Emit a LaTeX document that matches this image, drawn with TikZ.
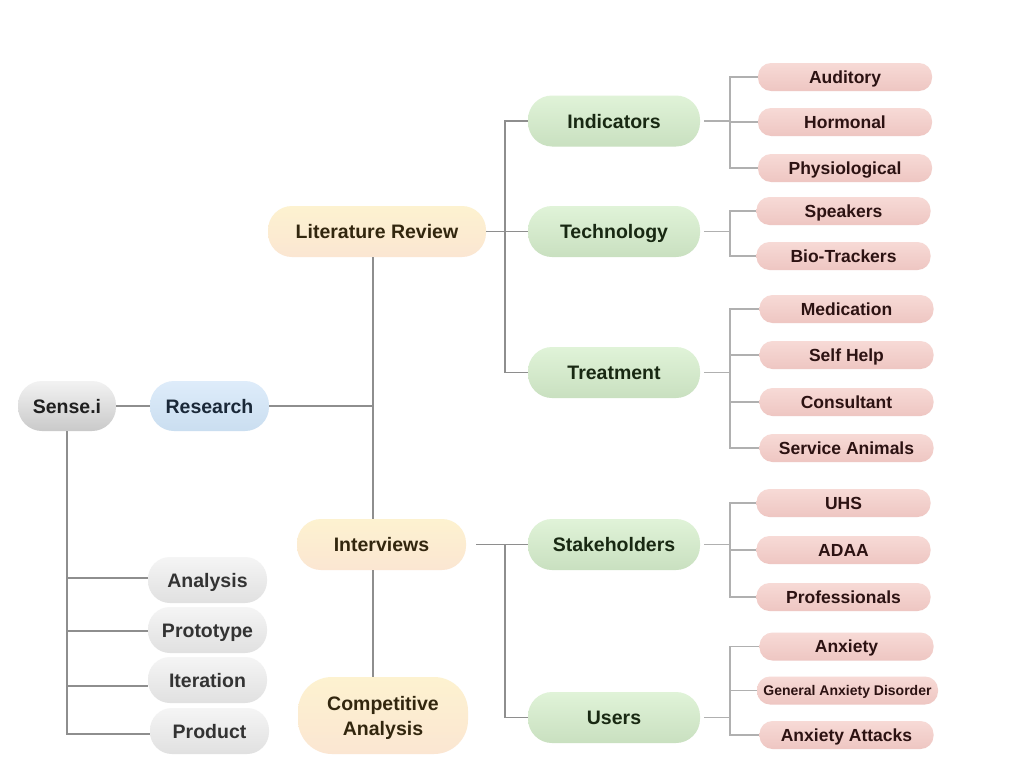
\documentclass[tikz,border=0pt]{standalone}
\usepackage{fontspec}
\setmainfont{Liberation Sans}
\usetikzlibrary{calc}
\definecolor{linemain}{HTML}{8E8E8E}
\definecolor{linelight}{HTML}{B0B0B0}
\begin{document}
\begin{tikzpicture}[x=1pt,y=-1pt,
  box/.style={draw=none, inner sep=0pt, align=center, text height=14pt, text depth=0pt, font=\bfseries\fontsize{19.5}{24}\selectfont},
  rootbox/.style={box, minimum width=98pt, minimum height=50pt, rounded corners=24pt, top color=black!5, bottom color=black!21, text=black!88},
  resbox/.style={box, minimum width=119pt, minimum height=50pt, rounded corners=24pt, top color={rgb,255:red,222;green,236;blue,250}, bottom color={rgb,255:red,202;green,222;blue,240}, text={rgb,255:red,26;green,40;blue,56}},
  yelbox/.style={box, minimum height=51pt, rounded corners=24pt, top color={rgb,255:red,253;green,242;blue,208}, bottom color={rgb,255:red,251;green,230;blue,210}, text={rgb,255:red,50;green,38;blue,14}},
  grnbox/.style={box, minimum width=172pt, minimum height=51pt, rounded corners=24pt, top color={rgb,255:red,224;green,243;blue,216}, bottom color={rgb,255:red,201;green,224;blue,192}, text={rgb,255:red,24;green,40;blue,18}},
  pnkbox/.style={box, minimum width=174pt, minimum height=28pt, rounded corners=13pt, top color={rgb,255:red,247;green,218;blue,214}, bottom color={rgb,255:red,238;green,198;blue,194}, text={rgb,255:red,44;green,18;blue,18}, font=\bfseries\fontsize{17.5}{21}\selectfont, text height=12.6pt},
  leafbox/.style={box, minimum width=119pt, minimum height=46pt, rounded corners=22pt, top color=black!4, bottom color=black!12, text=black!80},
  conn/.style={draw=linemain, line width=1.1pt},
  connl/.style={draw=linelight, line width=1.2pt}
]
\useasboundingbox (0,0) rectangle (1024,768);
\fill[white] (0,0) rectangle (1024,768);

% nodes
\node[rootbox] (root) at (67,406) {Sense.i};
\node[resbox] (res) at (209.5,406) {Research};
\node[yelbox, minimum width=218pt] (lit) at (377,231.5) {Literature Review};
\node[yelbox, minimum width=169pt] (int) at (381.5,544.5) {Interviews};
\node[yelbox, minimum width=170pt, minimum height=77pt, rounded corners=34pt, font=\bfseries\fontsize{19.5}{25}\selectfont, text height=39pt, text depth=0pt] (comp) at (383,715.5) {Competitive\\Analysis};

\node[grnbox] (ind) at (614,121) {Indicators};
\node[grnbox] (tech) at (614,231.5) {Technology};
\node[grnbox] (treat) at (614,372.5) {Treatment};
\node[grnbox] (stake) at (614,544.5) {Stakeholders};
\node[grnbox] (users) at (614,717.5) {Users};

\node[pnkbox] (aud) at (845,77) {Auditory};
\node[pnkbox] (horm) at (845,122) {Hormonal};
\node[pnkbox] (phys) at (845,168) {Physiological};
\node[pnkbox] (spk) at (843.5,211) {Speakers};
\node[pnkbox] (bio) at (843.5,256) {Bio-Trackers};
\node[pnkbox] (med) at (846.5,309) {Medication};
\node[pnkbox] (self) at (846.5,355) {Self Help};
\node[pnkbox] (cons) at (846.5,402) {Consultant};
\node[pnkbox] (serv) at (846.5,448) {Service Animals};
\node[pnkbox] (uhs) at (843.5,503) {UHS};
\node[pnkbox] (adaa) at (843.5,550) {ADAA};
\node[pnkbox] (prof) at (843.5,597) {Professionals};
\node[pnkbox] (anx) at (846.5,646.5) {Anxiety};
\node[pnkbox, minimum width=181pt, font=\bfseries\fontsize{14}{17}\selectfont, text height=10pt] (gad) at (847.5,690.5) {General Anxiety Disorder};
\node[pnkbox] (att) at (846.5,735) {Anxiety Attacks};

\node[leafbox] (ana) at (207.5,580) {Analysis};
\node[leafbox] (proto) at (207.5,630) {Prototype};
\node[leafbox] (iter) at (207.5,680) {Iteration};
\node[leafbox] (prod) at (209.5,731) {Product};

% junctions
\coordinate (rj) at (373,406);
\coordinate (lj) at (505,231.5);
\coordinate (ij) at (505,544.5);
\coordinate (aj) at (730,121);
\coordinate (tj) at (730,231.5);
\coordinate (trj) at (730,372.5);
\coordinate (sj) at (730,544.5);
\coordinate (uj) at (730,717.5);

% connectors
\draw[conn] (root) -- (res);
\draw[conn] (res.east) -- (rj);
\draw[conn] (lit.south -| rj) -- (int.north -| rj);
\draw[conn] (int.south -| rj) -- (comp.north -| rj);

\draw[conn] (lit.east) -- (lj);
\draw[conn] (ind.west) -- (ind.west -| lj) -- (treat.west -| lj) -- (treat.west);
\draw[conn] (tech.west) -- (lj);

\draw[conn] ([xshift=10pt]int.east) -- (ij);
\draw[conn] (stake.west) -- (ij) -- (users.west -| ij) -- (users.west);

\draw[conn] (root.south) -- ([yshift=-3pt]root.south |- prod.west) -- ([yshift=-3pt]prod.west);
\draw[conn] ([yshift=2pt]ana.west) -- ([yshift=2pt]ana.west -| root.south);
\draw[conn] ([yshift=-1pt]proto.west) -- ([yshift=-1pt]proto.west -| root.south);
\draw[conn] ([yshift=-6pt]iter.west) -- ([yshift=-6pt]iter.west -| root.south);

\draw[connl] ([xshift=4pt]ind.east) -- (aj);
\draw[connl] (aud.west) -- (aud.west -| aj) -- (phys.west -| aj) -- (phys.west);
\draw[connl] (horm.west) -- (horm.west -| aj);

\draw[connl] ([xshift=4pt]tech.east) -- (tj);
\draw[connl] (spk.west) -- (spk.west -| tj) -- (bio.west -| tj) -- (bio.west);

\draw[connl] ([xshift=4pt]treat.east) -- (trj);
\draw[connl] (med.west) -- (med.west -| trj) -- (serv.west -| trj) -- (serv.west);
\draw[connl] (self.west) -- (self.west -| trj);
\draw[connl] (cons.west) -- (cons.west -| trj);

\draw[connl] ([xshift=4pt]stake.east) -- (sj);
\draw[connl] (uhs.west) -- (uhs.west -| sj) -- (prof.west -| sj) -- (prof.west);
\draw[connl] (adaa.west) -- (adaa.west -| sj);

\draw[connl] ([xshift=4pt]users.east) -- (uj);
\draw[connl] (anx.west) -- (anx.west -| uj) -- (att.west -| uj) -- (att.west);
\draw[connl] (gad.west) -- (gad.west -| uj);
\end{tikzpicture}
\end{document}
